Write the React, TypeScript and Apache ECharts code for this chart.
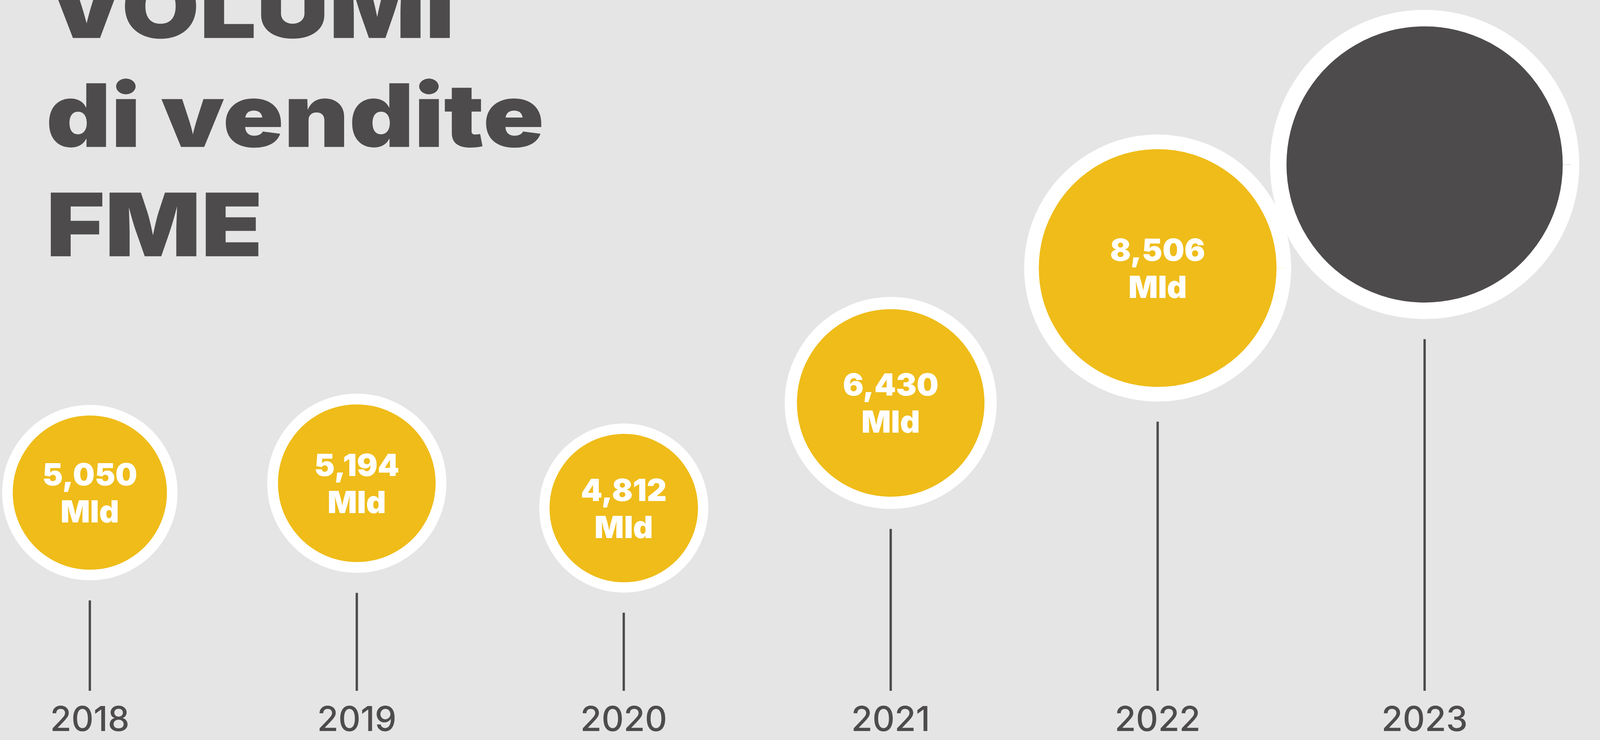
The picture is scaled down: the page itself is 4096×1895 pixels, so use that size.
import React, { useEffect, useRef } from 'react';
import * as echarts from 'echarts';

// ---- data ----
const years = ['2018', '2019', '2020', '2021', '2022', '2023'];
const volumes = [5.05, 5.194, 4.812, 6.43, 8.506, 10.1];
const unit = 'Mld';
const titleLines = ['VOLUMI', 'di vendite', 'FME'];

// ---- layout / style ----
const S = 0.857;
const W = 4096;
const H = 1895;
const YMIN = 2;
const YMAX = 12;
const DARK = '#4d4b4c';
const YELLOW = '#efbc19';

const outerR = (v: number) => S * (62 + 39.6 * v);
const borderW = (v: number) => S * (14 + 3.5 * v);

export default function App() {
  const ref = useRef<HTMLDivElement>(null);
  useEffect(() => {
    const chart = echarts.init(ref.current as HTMLDivElement, null, { renderer: 'svg' });
    const last = years.length - 1;
    const bubbles = years.map((y, i) => ({
      value: [y, volumes[i]],
      itemStyle: {
        color: i === last ? DARK : YELLOW,
        borderColor: '#ffffff',
        borderWidth: borderW(volumes[i]),
        opacity: 1,
      },
      label: { show: i !== last },
    }));
    const titleSize = 224;
    const titleBaselines = [97, 376, 656];
    chart.setOption({
      animation: false,
      backgroundColor: '#e5e5e5',
      grid: { left: 230, right: 449, top: 105, bottom: 126 },
      xAxis: {
        type: 'category',
        data: years,
        boundaryGap: false,
        axisLine: { show: false },
        axisTick: { show: false },
        splitLine: { show: false },
        axisLabel: {
          color: DARK,
          fontFamily: 'Inter',
          fontWeight: 500,
          fontSize: 88,
          lineHeight: 66,
          margin: 71,
          verticalAlign: 'middle',
        },
      },
      yAxis: { type: 'value', min: YMIN, max: YMAX, show: false },
      series: [
        {
          type: 'custom',
          z: 1,
          silent: true,
          encode: { x: 0, y: 1 },
          data: years.map((y, i) => [y, volumes[i]]),
          renderItem: (params: any, api: any) => {
            const x = api.value(0);
            const v = api.value(1);
            const p = api.coord([x, v]);
            const base = api.coord([x, YMIN]);
            const top = p[1] + outerR(v) + S * 60;
            return {
              type: 'line',
              shape: { x1: p[0], y1: top, x2: p[0], y2: base[1] },
              style: { stroke: DARK, lineWidth: 6 },
            };
          },
        },
        {
          type: 'scatter',
          z: 2,
          silent: true,
          data: bubbles,
          itemStyle: { opacity: 1 },
          emphasis: { disabled: true },
          symbolSize: (val: any) => 2 * (outerR(val[1]) - borderW(val[1]) / 2),
          label: {
            position: 'inside',
            formatter: (p: any) => `${p.value[1].toFixed(3).replace('.', ',')}\n${unit}`,
            color: '#ffffff',
            fontFamily: 'Inter',
            fontWeight: 900,
            fontSize: 79,
            lineHeight: 95,
          },
        },
      ],
      graphic: titleLines.map((t, i) => ({
        type: 'text',
        x: 118,
        y: titleBaselines[i] - 0.364 * titleSize,
        scaleX: 1.15,
        silent: true,
        style: {
          text: t,
          fill: DARK,
          fontFamily: 'Inter',
          fontWeight: 900,
          fontSize: titleSize,
          verticalAlign: 'middle',
        },
      })),
    });
    return () => chart.dispose();
  }, []);
  return (
    <div
      ref={ref}
      style={{ position: 'fixed', left: 0, top: 0, width: W, height: H, background: '#e5e5e5' }}
    />
  );
}
